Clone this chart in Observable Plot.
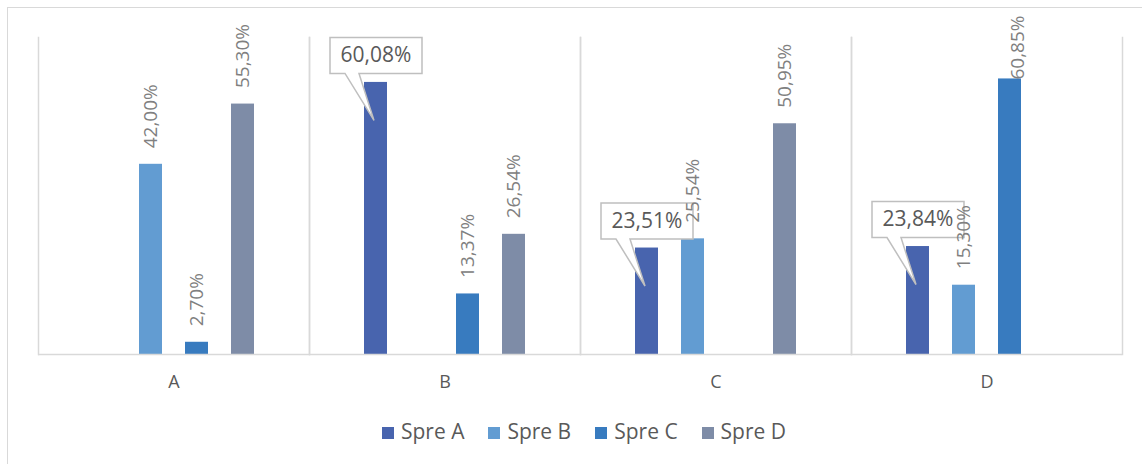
<!DOCTYPE html>
<html>
<head>
<meta charset="utf-8">
<script src="https://cdn.jsdelivr.net/npm/d3@7"></script>
<script src="https://cdn.jsdelivr.net/npm/@observablehq/plot@0.6"></script>
<style>
  html, body { margin: 0; padding: 0; background: #fff; }
  #wrap { position: relative; width: 1142px; height: 464px; overflow: hidden; font-family: "Open Sans", sans-serif; }
  #border { position: absolute; left: 7px; top: 7px; width: 1160px; height: 480px; border: 1.5px solid #d9d9d9; box-sizing: border-box; }
  #chart { position: absolute; left: 0; top: 0; }
  #legend { position: absolute; left: 0; top: 419px; width: 1142px; box-sizing: border-box; padding-left: 26px;
            display: flex; justify-content: center; align-items: center; font-size: 21px; line-height: 24px; color: #595959; }
  #legend .item { display: flex; align-items: center; margin: 0 12px; }
  #legend .sw { width: 12px; height: 12px; margin-right: 7px; position: relative; top: 2px; }
</style>
</head>
<body>
<div id="wrap">
  <div id="border"></div>
  <div id="chart"></div>
  <div id="legend"></div>
</div>
<script>
// Categories and series
const groups = ["A", "B", "C", "D"];
const seriesNames = ["Spre A", "Spre B", "Spre C", "Spre D"];
const seriesColors = ["#4864ae", "#629cd2", "#387bbf", "#7e8ca7"];

// Percent values per series, one entry per group (null = no bar)
const spreA = [null, 60.08, 23.51, 23.84];
const spreB = [42.00, null, 25.54, 15.30];
const spreC = [2.70, 13.37, null, 60.85];
const spreD = [55.30, 26.54, 50.95, null];

// Series whose labels are drawn as callouts
const calloutSeries = "Spre A";
// Rotated labels above this value are pinned to the top of the chart area
const labelCeiling = 57;

const seriesValues = [spreA, spreB, spreC, spreD];
const rows = [];
seriesNames.forEach((s, si) => {
  groups.forEach((g, gi) => {
    const v = seriesValues[si][gi];
    if (v != null) rows.push({group: g, series: s, value: v});
  });
});
const fmt = (v) => v.toFixed(2).replace(".", ",") + "%";

const callouts = rows.filter(d => d.series === calloutSeries);
const rotated = rows.filter(d => d.series !== calloutSeries);
const rotatedFree = rotated.filter(d => d.value <= labelCeiling);
const rotatedPinned = rotated.filter(d => d.value > labelCeiling);

// Speech-bubble outline drawn relative to the top centre of a bar
const calloutSymbol = {
  draw(context) {
    context.moveTo(-46, -45);
    context.lineTo(46, -45);
    context.lineTo(46, -9);
    context.lineTo(-17, -9);
    context.lineTo(-2, 38);
    context.lineTo(-31, -9);
    context.lineTo(-46, -9);
    context.closePath();
  }
};

const gridColor = "#d9d9d9";

const chart = Plot.plot({
  width: 1142,
  height: 400,
  marginLeft: 37,
  marginRight: 20,
  marginTop: 37,
  marginBottom: 46,
  style: {fontFamily: "'Open Sans', sans-serif", fontSize: "18px", color: "#595959", background: "transparent"},
  fx: {domain: groups, padding: 0, axis: "bottom", tickSize: 0, tickPadding: 21, label: null},
  x: {domain: seriesNames, paddingInner: 0.49, paddingOuter: 1.14, axis: null},
  y: {domain: [0, 70], axis: null},
  color: {domain: seriesNames, range: seriesColors},
  marks: [
    Plot.frame({anchor: "left", stroke: gridColor, strokeWidth: 1.5}),
    Plot.frame({anchor: "right", stroke: gridColor, strokeWidth: 1.5}),
    Plot.barY(rows, {fx: "group", x: "series", y: "value", fill: "series"}),
    Plot.ruleY([0], {stroke: gridColor, strokeWidth: 1.5}),
    Plot.dot(callouts, {fx: "group", x: "series", y: "value", symbol: calloutSymbol, r: 3,
      fill: "white", stroke: "#bfbfbf", strokeWidth: 1.5}),
    Plot.text(callouts, {fx: "group", x: "series", y: "value", text: d => fmt(d.value),
      dy: -27, fontSize: 21, fill: "#595959"}),
    Plot.text(rotatedFree, {fx: "group", x: "series", y: "value", text: d => fmt(d.value),
      rotate: -90, textAnchor: "start", dy: -16, fontSize: 19, fill: "#808080"}),
    Plot.text(rotatedPinned, {fx: "group", x: "series", text: d => fmt(d.value), frameAnchor: "top",
      rotate: -90, textAnchor: "end", dy: -22, fontSize: 19, fill: "#808080"})
  ]
});
document.getElementById("chart").appendChild(chart);

// Legend row
const legend = d3.select("#legend");
seriesNames.forEach((s, i) => {
  const item = legend.append("div").attr("class", "item");
  item.append("span").attr("class", "sw").style("background", seriesColors[i]);
  item.append("span").text(s);
});
</script>
</body>
</html>
